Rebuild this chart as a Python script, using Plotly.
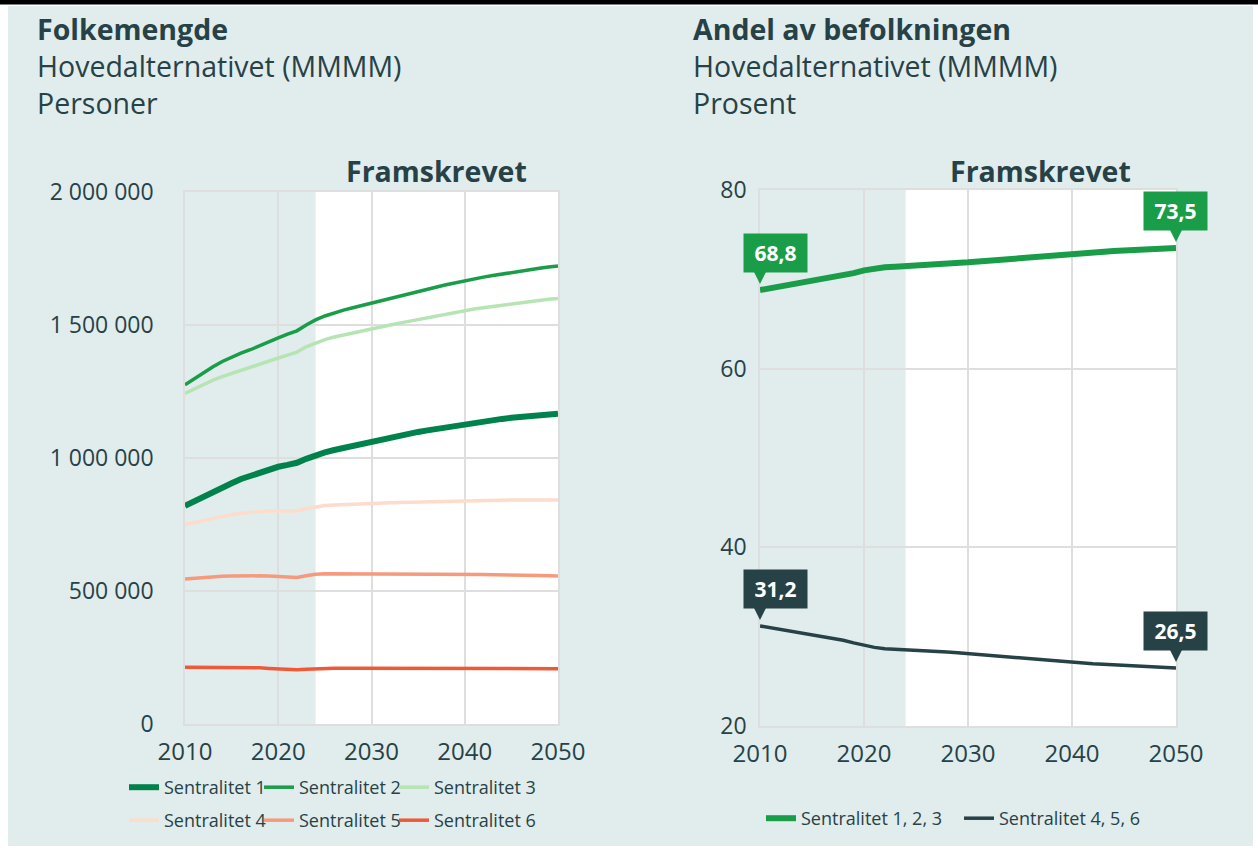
import plotly.graph_objects as go

W, H = 1258, 848

years = list(range(2010, 2051))

# Folkemengde, personer (tusen)
s1 = [820, 838, 856, 872, 889, 905, 921, 934, 945, 960, 967, 974, 982, 997, 1011, 1021, 1030, 1038, 1046, 1054,
      1061, 1069, 1076, 1084, 1091, 1098, 1104, 1110, 1116, 1122, 1128, 1133, 1138, 1143, 1147, 1151, 1155, 1158, 1161, 1164, 1166]
s2 = [1275, 1298, 1321, 1343, 1363, 1380, 1394, 1407, 1422, 1440, 1452, 1466, 1478, 1500, 1519, 1534, 1546, 1556, 1565, 1574,
      1583, 1592, 1601, 1610, 1619, 1627, 1635, 1643, 1651, 1659, 1666, 1673, 1680, 1686, 1692, 1698, 1703, 1708, 1713, 1718, 1722]
s3 = [1243, 1260, 1277, 1293, 1306, 1318, 1330, 1342, 1355, 1366, 1376, 1387, 1398, 1418, 1433, 1445, 1455, 1463, 1471, 1478,
      1485, 1493, 1500, 1507, 1514, 1521, 1528, 1535, 1541, 1548, 1554, 1560, 1565, 1570, 1575, 1580, 1585, 1589, 1593, 1597, 1600]
s4 = [750, 758, 766, 774, 781, 787, 792, 796, 799, 801, 802, 802, 801, 810, 817, 821, 823, 825, 827, 829,
      830, 831, 832, 833, 834, 835, 836, 837, 838, 839, 840, 840, 841, 841, 841, 842, 842, 842, 842, 842, 842]
s5 = [545, 548, 551, 553, 555, 556, 557, 558, 557, 556, 554, 552, 551, 557, 563, 565, 565, 565, 565, 564,
      564, 564, 564, 564, 564, 564, 563, 563, 563, 563, 563, 562, 562, 561, 561, 560, 559, 558, 558, 557, 556]
s6 = [213, 213, 213, 213, 212, 212, 212, 212, 211, 209, 207, 205, 204, 206, 208, 209, 210, 210, 210, 210,
      210, 210, 210, 210, 210, 210, 210, 210, 210, 210, 210, 210, 210, 210, 210, 210, 209, 209, 208, 208, 208]

# Andel av befolkningen, prosent
a123 = [68.8, 69.0, 69.2, 69.4, 69.6, 69.8, 70.0, 70.2, 70.4, 70.7, 71.0, 71.2, 71.35, 71.4, 71.45, 71.5, 71.55, 71.65, 71.72, 71.8,
        71.9, 72.0, 72.1, 72.2, 72.3, 72.4, 72.5, 72.6, 72.7, 72.8, 72.9, 72.97, 73.04, 73.1, 73.16, 73.22, 73.28, 73.34, 73.4, 73.45, 73.5]
a456 = [31.2, 31.0, 30.8, 30.6, 30.4, 30.2, 30.0, 29.8, 29.6, 29.3, 29.0, 28.8, 28.65, 28.6, 28.55, 28.5, 28.45, 28.35, 28.28, 28.2,
        28.1, 28.0, 27.9, 27.8, 27.7, 27.6, 27.5, 27.4, 27.3, 27.2, 27.1, 27.03, 26.96, 26.9, 26.84, 26.78, 26.72, 26.66, 26.6, 26.55, 26.5]

names_left = ["Sentralitet 1", "Sentralitet 2", "Sentralitet 3", "Sentralitet 4", "Sentralitet 5", "Sentralitet 6"]
names_right = ["Sentralitet 1, 2, 3", "Sentralitet 4, 5, 6"]
y_ticks_left = [0, 500000, 1000000, 1500000, 2000000]
y_ticks_right = [20, 40, 60, 80]
x_ticks = [2010, 2020, 2030, 2040, 2050]
proj_start = 2024

title_left = ["Folkemengde", "Hovedalternativet (MMMM)", "Personer"]
title_right = ["Andel av befolkningen", "Hovedalternativet (MMMM)", "Prosent"]
proj_label = "Framskrevet"

BG = "#e1ecec"
TXT = "#274247"
GRID = "#dedede"
FONT = "Open Sans"
colors_left = ["#00824d", "#1a9d49", "#b7e4b5", "#fedccb", "#f69a7d", "#ee5a38"]
widths_left = [6, 3.5, 3.5, 3.5, 3.5, 3.5]
colors_right = ["#1a9d49", "#274247"]
widths_right = [6, 3.5]

# legend entry positions (px): (left edge, top)
leg_pos_left = [(124, 769), (259, 769), (394, 769), (124, 802), (259, 802), (394, 802)]
leg_pos_right = [(761, 800), (959, 800)]


def px(x):
    return x / W


def py(y):
    return 1 - y / H


fig = go.Figure()
legend_layouts = {}
legfont = dict(family=FONT, size=18, color=TXT)


def legend_name(k):
    return "legend" if k == 0 else f"legend{k + 1}"


k = 0
left_series = [s1, s2, s3, s4, s5, s6]
for i, (nm, vals) in enumerate(zip(names_left, left_series)):
    ln = legend_name(k)
    fig.add_trace(go.Scatter(
        x=years, y=[v * 1000 for v in vals], name=nm, mode="lines",
        line=dict(color=colors_left[i], width=widths_left[i]),
        xaxis="x", yaxis="y", legend=ln,
        hovertemplate="%{x}: %{y:,}<extra>" + nm + "</extra>"))
    lx, ly = leg_pos_left[i]
    legend_layouts[ln] = dict(orientation="h", x=px(lx), y=py(ly), xanchor="left", yanchor="top",
                              font=legfont, bgcolor="rgba(0,0,0,0)", itemwidth=30,
                              itemclick=False, itemdoubleclick=False)
    k += 1

for i, (nm, vals) in enumerate(zip(names_right, [a123, a456])):
    ln = legend_name(k)
    fig.add_trace(go.Scatter(
        x=years, y=vals, name=nm, mode="lines",
        line=dict(color=colors_right[i], width=widths_right[i]),
        xaxis="x2", yaxis="y2", legend=ln,
        hovertemplate="%{x}: %{y:.1f}<extra>" + nm + "</extra>"))
    lx, ly = leg_pos_right[i]
    legend_layouts[ln] = dict(orientation="h", x=px(lx), y=py(ly), xanchor="left", yanchor="top",
                              font=legfont, bgcolor="rgba(0,0,0,0)", itemwidth=30,
                              itemclick=False, itemdoubleclick=False)
    k += 1

axis_common = dict(showgrid=True, gridcolor=GRID, gridwidth=1.5, zeroline=False,
                   showline=True, mirror=True, linecolor=GRID, linewidth=1.5,
                   automargin=False, fixedrange=True)
xfont = dict(family=FONT, size=24, color=TXT)
yfont = dict(family=FONT, size=23, color=TXT)

fig.update_layout(
    width=W, height=H,
    margin=dict(l=0, r=0, t=0, b=0, pad=0),
    paper_bgcolor="white",
    plot_bgcolor=BG,
    separators=", ",
    font=dict(family=FONT, color=TXT),
    xaxis=dict(domain=[px(185), px(558)], range=[2010, 2050], tickvals=x_ticks, anchor="y",
               ticklabelstandoff=5, tickfont=xfont, **axis_common),
    yaxis=dict(domain=[py(724), py(192)], range=[0, 2000000], tickvals=y_ticks_left, tickformat=",d",
               anchor="x", ticklabelstandoff=25, tickfont=yfont, **axis_common),
    xaxis2=dict(domain=[px(760), px(1176)], range=[2010, 2050], tickvals=x_ticks, anchor="y2",
                ticklabelstandoff=5, tickfont=xfont, **axis_common),
    yaxis2=dict(domain=[py(726), py(190)], range=[20, 80], tickvals=y_ticks_right,
                anchor="x2", ticklabelstandoff=7, tickfont=yfont, **axis_common),
    showlegend=True,
    **legend_layouts,
)

shapes = [
    # card background
    dict(type="rect", xref="paper", yref="paper", x0=px(8), x1=px(1253), y0=py(846), y1=py(6),
         fillcolor=BG, line=dict(width=0), layer="below"),
    # top rule
    dict(type="rect", xref="paper", yref="paper", x0=0, x1=1, y0=py(4.5), y1=1,
         fillcolor="black", line=dict(width=0), layer="above"),
    # projection region
    dict(type="rect", xref="x", yref="y domain", x0=proj_start, x1=2050, y0=0, y1=1,
         fillcolor="white", line=dict(width=0), layer="below"),
    dict(type="rect", xref="x2", yref="y2 domain", x0=proj_start, x1=2050, y0=0, y1=1,
         fillcolor="white", line=dict(width=0), layer="below"),
]
fig.update_layout(shapes=shapes)

ann = []
for x, lines in [(35, title_left), (691, title_right)]:
    text = f"<b>{lines[0]}</b><br>{lines[1]}<br>{lines[2]}"
    ann.append(dict(xref="paper", yref="paper", x=px(x), y=py(66), text=text, showarrow=False,
                    xanchor="left", yanchor="middle", align="left",
                    font=dict(family=FONT, size=28.5, color=TXT)))

for xr in ["x", "x2"]:
    ann.append(dict(xref=xr, yref="paper", x=(proj_start + 2050) / 2, y=py(171), text=f"<b>{proj_label}</b>",
                    showarrow=False, xanchor="center", yanchor="middle",
                    font=dict(family=FONT, size=28.5, color=TXT)))

# value callouts
callouts = [
    (years[0], a123[0], colors_right[0], -17),
    (years[-1], a123[-1], colors_right[0], -33),
    (years[0], a456[0], colors_right[1], -17),
    (years[-1], a456[-1], colors_right[1], -33),
]
for x, v, c, xs in callouts:
    label = f"{v:.1f}".replace(".", ",")
    ann.append(dict(xref="x2", yref="y2", x=x, y=v, text=f"&nbsp;<b>{label}</b>&nbsp;", showarrow=False,
                    xanchor="left", yanchor="bottom", xshift=xs, yshift=17,
                    bgcolor=c, borderpad=5, font=dict(family=FONT, size=21, color="white")))
    ann.append(dict(xref="x2", yref="y2", x=x, y=v, text="", showarrow=True,
                    ax=0, ay=-19, arrowhead=2, arrowsize=2.4, arrowwidth=1, arrowcolor=c,
                    standoff=6))

fig.update_layout(annotations=ann)

fig.write_html("out.html", config={"displayModeBar": False},
               post_script="document.body.style.margin='0';")
